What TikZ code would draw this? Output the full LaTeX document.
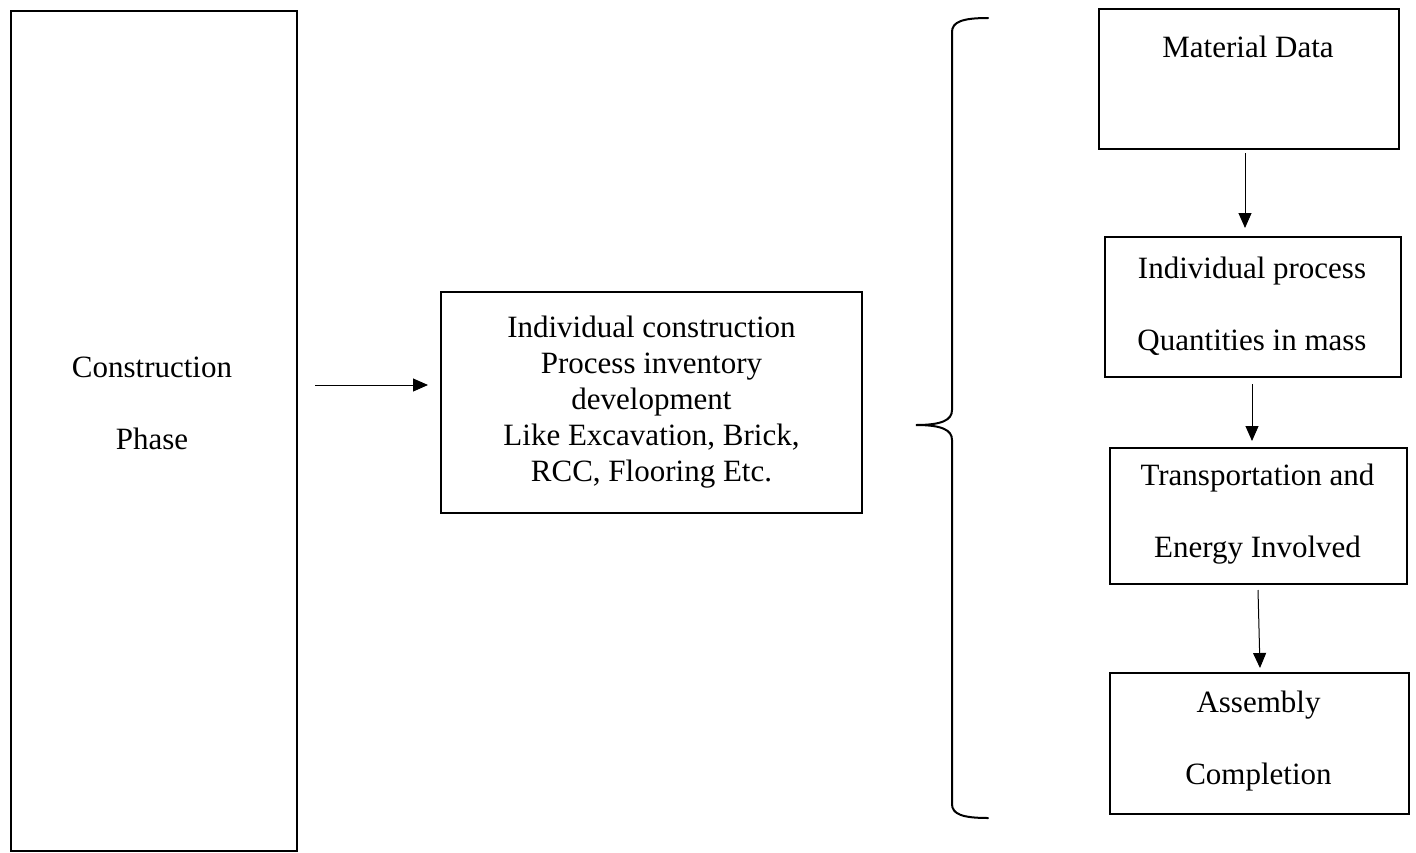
\documentclass[tikz,border=0pt]{standalone}
\usepackage{fontspec}
\setmainfont{Liberation Serif}
\usetikzlibrary{arrows.meta}
\begin{document}
\begin{tikzpicture}[x=1pt,y=-1pt,
  box/.style={draw,line width=2pt,inner sep=0pt,anchor=north west},
  txt/.style={font=\fontsize{31}{36}\selectfont,align=center,inner sep=0pt},
  twoline/.style={font=\fontsize{31}{72}\selectfont,align=center,inner sep=0pt},
  flow/.style={line width=1pt,-{Triangle[length=15pt,width=13pt]}},
  brace/.style={line width=2pt,line cap=round}]
\useasboundingbox (0,0) rectangle (1416,852);

% left column
\node[box,minimum width=286pt,minimum height=840pt] (phase) at (10,10) {};
\node[twoline] (phasetxt) at (152,403) {Construction\\Phase};

% inventory box
\node[box,minimum width=421pt,minimum height=221pt,anchor=center] (inv) at (651.5,402.5) {};
\node[txt] (invtxt) at (651.5,402) {Individual construction\\Process inventory\\development\\Like Excavation, Brick,\\RCC, Flooring Etc.};

\coordinate (a0) at (315,385);
\coordinate (a1) at (428,385);
\draw[flow] (a0) -- (a1);

% brace grouping the process steps
\coordinate (bt) at (988,18);
\coordinate (bm) at (916,425);
\coordinate (bb) at (988,818);
\draw[brace] (bt) .. controls (962,18) and (952,22) .. (952,32)
  -- (952,410) .. controls (952,420) and (942,425) .. (bm)
  .. controls (942,425) and (952,430) .. (952,440)
  -- (952,804) .. controls (952,814) and (962,818) .. (bb);

% process steps
\node[box,minimum width=300pt,minimum height=140pt] (mat) at (1098,8) {};
\node[txt] (mattxt) at (1248,47) {Material Data};

\node[box,minimum width=296pt,minimum height=140pt] (ind) at (1104,236) {};
\node[twoline] (indtxt) at (1252,306) {Individual process\\Quantities in mass};

\node[box,minimum width=297pt,minimum height=136pt] (tra) at (1109,447) {};
\node[twoline] (tratxt) at (1257.5,514) {Transportation and\\Energy Involved};

\node[box,minimum width=299pt,minimum height=141pt] (asm) at (1109,672) {};
\node[twoline] (asmtxt) at (1258.5,741) {Assembly\\Completion};

\coordinate (b0) at (1245,153);
\coordinate (b1) at (1245,228);
\coordinate (c0) at (1252,384);
\coordinate (c1) at (1252,441);
\coordinate (d0) at (1258,590);
\coordinate (d1) at (1260,668);
\draw[flow] (b0) -- (b1);
\draw[flow] (c0) -- (c1);
\draw[flow] (d0) -- (d1);
\end{tikzpicture}
\end{document}
